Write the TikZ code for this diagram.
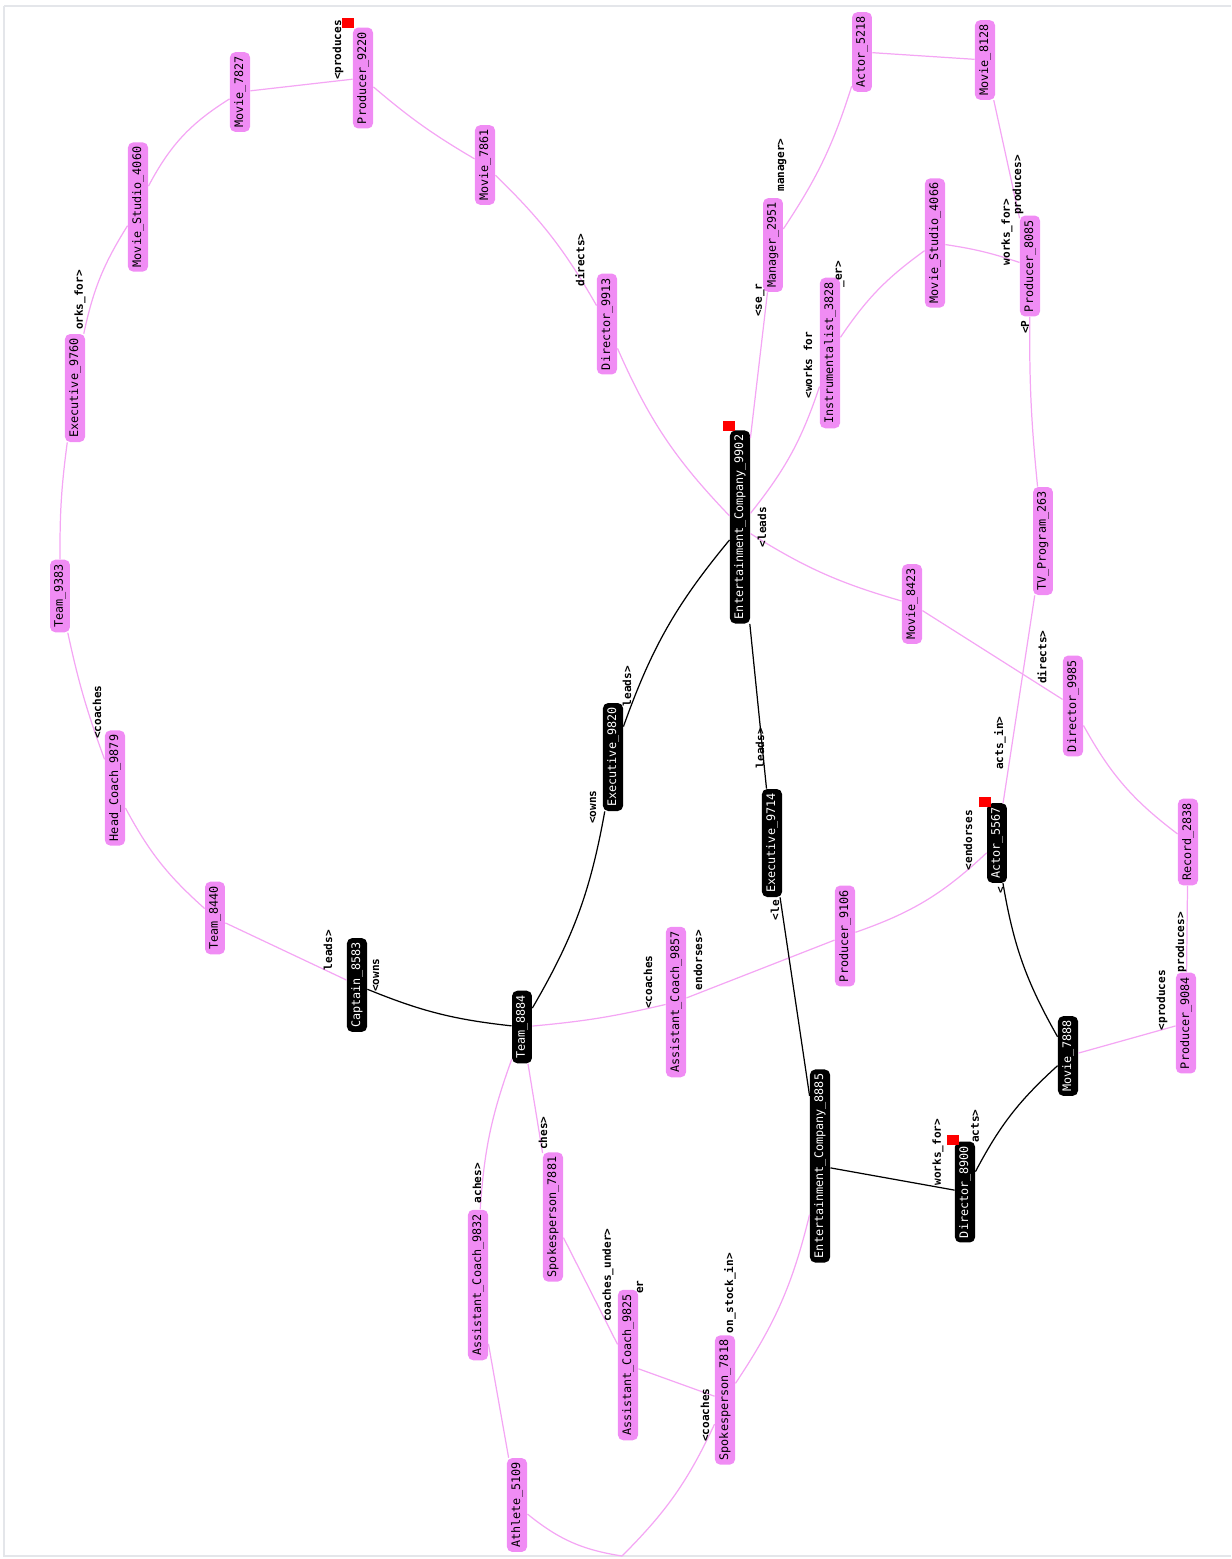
\documentclass[tikz,border=0pt]{standalone}
\usepackage{fontspec}
\newfontfamily\lblfont{DejaVu Sans Mono}
\usetikzlibrary{positioning}
\definecolor{nodepink}{HTML}{F08CF4}
\definecolor{edgepink}{HTML}{F4A6F4}
\definecolor{framegray}{HTML}{E4E6EA}

\begin{document}
\begin{tikzpicture}[x=0.02cm,y=-0.02cm,
  ent/.style={rotate=90,rounded corners=3pt,font=\lblfont\fontsize{6.7}{7}\selectfont,inner xsep=2.5pt,inner ysep=2.4pt},
  pnode/.style={ent,fill=nodepink},
  bnode/.style={ent,fill=black,text=white},
  rel/.style={rotate=90,font=\lblfont\bfseries\fontsize{6.3}{7}\selectfont,inner sep=0pt},
  pedge/.style={draw=edgepink,line width=0.7pt},
  bedge/.style={draw=black,line width=0.7pt},
  flag/.style={fill=red,minimum width=6.5pt,minimum height=5.5pt,inner sep=0pt}]
\useasboundingbox (0,0) rectangle (1231,1559);
\draw[framegray,line width=1pt] (4,6) -- (1231,6) (4,6) -- (4,1556) -- (1231,1556);
% pink entities
\node[pnode] (m7827) at (240,92) {Movie\_7827};
\node[pnode] (p9220) at (363,78) {Producer\_9220};
\node[pnode] (ms4060) at (138,207) {Movie\_Studio\_4060};
\node[pnode] (ex9760) at (75,388) {Executive\_9760};
\node[pnode] (t9383) at (60,596) {Team\_9383};
\node[pnode] (hc9879) at (115,788) {Head\_Coach\_9879};
\node[pnode] (t8440) at (215,918) {Team\_8440};
\node[pnode] (m7861) at (485,165) {Movie\_7861};
\node[pnode] (d9913) at (607,324) {Director\_9913};
\node[pnode] (mg2951) at (773,245) {Manager\_2951};
\node[pnode] (a5218) at (862,52) {Actor\_5218};
\node[pnode] (m8128) at (985,60) {Movie\_8128};
\node[pnode] (ms4066) at (935,243) {Movie\_Studio\_4066};
\node[pnode] (in3828) at (830,353) {Instrumentalist\_3828};
\node[pnode] (p8085) at (1030,266) {Producer\_8085};
\node[pnode] (tv263) at (1043,541) {TV\_Program\_263};
\node[pnode] (m8423) at (912,604) {Movie\_8423};
\node[pnode] (d9985) at (1073,706) {Director\_9985};
\node[pnode] (r2838) at (1188,842) {Record\_2838};
\node[pnode] (p9106) at (845,936) {Producer\_9106};
\node[pnode] (ac9857) at (676,1002) {Assistant\_Coach\_9857};
\node[pnode] (p9084) at (1186,1023) {Producer\_9084};
\node[pnode] (sp7881) at (553,1217) {Spokesperson\_7881};
\node[pnode] (ac9832) at (478,1285) {Assistant\_Coach\_9832};
\node[pnode] (ac9825) at (628,1365) {Assistant\_Coach\_9825};
\node[pnode] (sp7818) at (725,1400) {Spokesperson\_7818};
\node[pnode] (at5109) at (517,1505) {Athlete\_5109};
% black entities
\node[bnode] (ec9902) at (740,527) {Entertainment\_Company\_9902};
\node[bnode] (ex9820) at (613,757) {Executive\_9820};
\node[bnode] (ex9714) at (772,843) {Executive\_9714};
\node[bnode] (a5567) at (997,843) {Actor\_5567};
\node[bnode] (cp8583) at (357,985) {Captain\_8583};
\node[bnode] (t8884) at (522,1027) {Team\_8884};
\node[bnode] (m7888) at (1068,1056) {Movie\_7888};
\node[bnode] (ec8885) at (820,1166) {Entertainment\_Company\_8885};
\node[bnode] (d8900) at (965,1192) {Director\_8900};
\coordinate (offpage) at (622,1556);
% red flags
\node[flag] (f9220) at (348,23) {};
\node[flag] (f9902) at (729,426) {};
\node[flag] (f5567) at (985,802) {};
\node[flag] (f8900) at (953,1140) {};
% pink relations
\draw[pedge] (m7827) -- (p9220);
\draw[pedge] (ms4060) to[bend left=15] (m7827);
\draw[pedge] (ex9760) to[bend left=10] (ms4060);
\draw[pedge] (t9383) to[bend left=4] (ex9760);
\draw[pedge] (hc9879) to[bend left=4] (t9383);
\draw[pedge] (t8440) to[bend left=10] (hc9879);
\draw[pedge] (t8440) -- (cp8583);
\draw[pedge] (p9220) to[bend right=5] (m7861);
\draw[pedge] (m7861) to[bend left=8] (d9913);
\draw[pedge] (d9913) to[bend right=10] (ec9902);
\draw[pedge] (ec9902) -- (mg2951);
\draw[pedge] (mg2951) to[bend right=8] (a5218);
\draw[pedge] (a5218) -- (m8128);
\draw[pedge] (m8128) -- (p8085);
\draw[pedge] (ms4066) to[bend left=5] (p8085);
\draw[pedge] (in3828) to[bend left=10] (ms4066);
\draw[pedge] (ec9902) to[bend right=10] (in3828);
\draw[pedge] (p8085) to[bend right=3] (tv263);
\draw[pedge] (tv263) -- (a5567);
\draw[pedge] (ec9902) to[bend right=8] (m8423);
\draw[pedge] (m8423) -- (d9985);
\draw[pedge] (d9985) to[bend right=12] (r2838);
\draw[pedge] (r2838) -- (p9084);
\draw[pedge] (p9084) -- (m7888);
\draw[pedge] (a5567) to[bend left=12] (p9106);
\draw[pedge] (p9106) -- (ac9857);
\draw[pedge] (t8884) to[bend right=4] (ac9857);
\draw[pedge] (t8884) -- (sp7881);
\draw[pedge] (t8884) to[bend right=8] (ac9832);
\draw[pedge] (sp7881) -- (ac9825);
\draw[pedge] (ac9825) -- (sp7818);
\draw[pedge] (sp7818) to[bend right=10] (ec8885);
\draw[pedge] (ac9832) -- (at5109);
\draw[pedge] (at5109) to[bend right=15] (offpage);
\draw[pedge] (sp7818) to[bend left=10] (offpage);
% black relations
\draw[bedge] (cp8583) to[bend right=8] (t8884);
\draw[bedge] (t8884) to[bend right=10] (ex9820);
\draw[bedge] (ex9820) to[bend left=10] (ec9902);
\draw[bedge] (ec9902) -- (ex9714);
\draw[bedge] (ex9714) -- (ec8885);
\draw[bedge] (ec8885) -- (d8900);
\draw[bedge] (d8900) to[bend left=10] (m7888);
\draw[bedge] (a5567) to[bend right=10] (m7888);
% relation labels
\node[rel] (r1) at (338,50) {<produces};
\node[rel] (r2) at (80,300) {orks\_for>};
\node[rel] (r3) at (97,712) {<coaches};
\node[rel] (r4) at (328,950) {leads>};
\node[rel] (r5) at (376,975) {<owns};
\node[rel] (r6) at (580,260) {directs>};
\node[rel] (r7) at (782,165) {manager>};
\node[rel] (r8) at (760,300) {<se\_r};
\node[rel] (r9) at (808,365) {<works for};
\node[rel] (r10) at (840,274) {\_er>};
\node[rel] (r11) at (1007,232) {works\_for>};
\node[rel] (r12) at (1018,185) {produces>};
\node[rel] (r13) at (1025,327) {<P};
\node[rel] (r14) at (762,527) {<leads};
\node[rel] (r15) at (627,686) {leads>};
\node[rel] (r16) at (593,807) {<owns};
\node[rel] (r17) at (760,748) {leads>};
\node[rel] (r18) at (775,910) {<le};
\node[rel] (r19) at (1042,657) {directs>};
\node[rel] (r20) at (1000,743) {acts\_in>};
\node[rel] (r21) at (968,840) {<endorses};
\node[rel] (r22) at (1001,890) {<};
\node[rel] (r23) at (648,982) {<coaches};
\node[rel] (r24) at (698,960) {endorses>};
\node[rel] (r25) at (1162,1000) {<produces};
\node[rel] (r26) at (1181,942) {produces>};
\node[rel] (r27) at (938,1152) {works\_for>};
\node[rel] (r28) at (975,1126) {acts>};
\node[rel] (r29) at (543,1133) {ches>};
\node[rel] (r30) at (477,1183) {aches>};
\node[rel] (r31) at (608,1275) {coaches\_under>};
\node[rel] (r32) at (640,1287) {er};
\node[rel] (r33) at (730,1293) {on\_stock\_in>};
\node[rel] (r34) at (705,1415) {<coaches};
\end{tikzpicture}
\end{document}
